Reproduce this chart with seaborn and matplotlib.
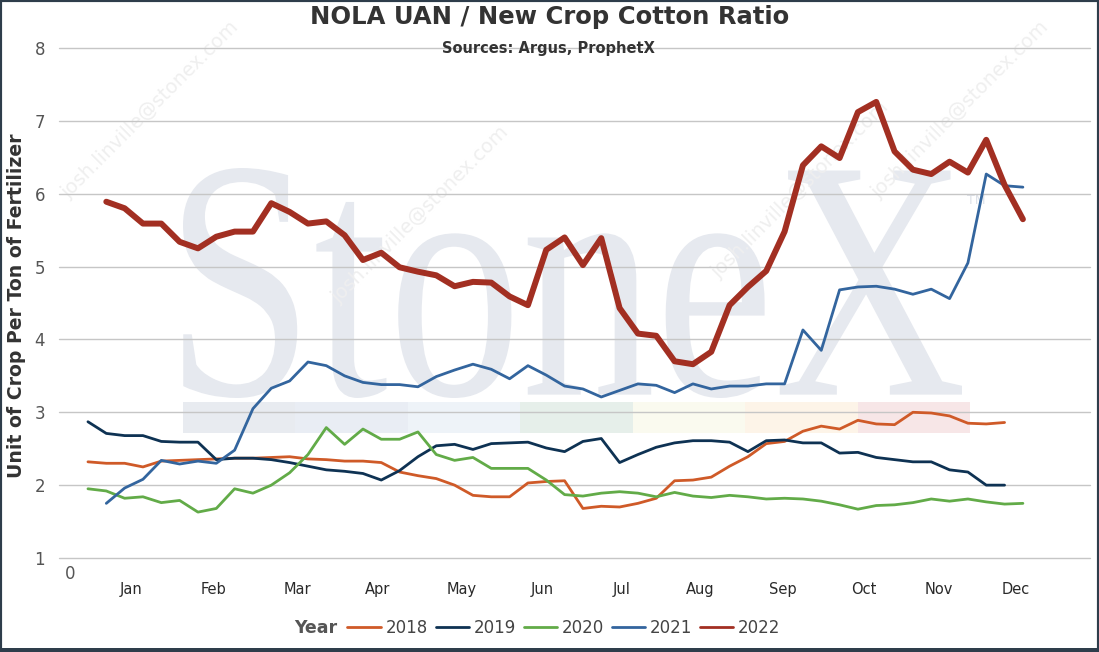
import numpy as np
import pandas as pd
import matplotlib
matplotlib.use("Agg")
import matplotlib.pyplot as plt
import seaborn as sns
from matplotlib.textpath import TextPath
from matplotlib.patches import PathPatch, Rectangle
from matplotlib.font_manager import FontProperties
from matplotlib.transforms import Affine2D
from matplotlib.lines import Line2D

# ---------------- data ----------------
years = [2018, 2019, 2020, 2021, 2022]
first_week = [1, 1, 1, 2, 2]
colors = ["#cf5a28", "#0e3253", "#62ab48", "#33659e", "#a22f22"]
widths = [2.0, 2.0, 2.0, 2.0, 4.3]

v2018 = [2.32, 2.30, 2.30, 2.25, 2.33, 2.34, 2.35, 2.36, 2.37, 2.37, 2.38, 2.39, 2.36,
         2.35, 2.33, 2.33, 2.31, 2.18, 2.13, 2.09, 2.00, 1.86, 1.84, 1.84, 2.03, 2.05,
         2.06, 1.68, 1.71, 1.70, 1.75, 1.82, 2.06, 2.07, 2.11, 2.26, 2.39, 2.57, 2.60,
         2.74, 2.81, 2.77, 2.89, 2.84, 2.83, 3.00, 2.99, 2.95, 2.85, 2.84, 2.86]
v2019 = [2.87, 2.71, 2.68, 2.68, 2.60, 2.59, 2.59, 2.35, 2.37, 2.37, 2.35, 2.31, 2.26,
         2.21, 2.19, 2.16, 2.07, 2.20, 2.39, 2.54, 2.56, 2.49, 2.57, 2.58, 2.59, 2.51,
         2.46, 2.60, 2.64, 2.31, 2.42, 2.52, 2.58, 2.61, 2.61, 2.59, 2.46, 2.61, 2.62,
         2.58, 2.58, 2.44, 2.45, 2.38, 2.35, 2.32, 2.32, 2.21, 2.18, 2.00, 2.00]
v2020 = [1.95, 1.92, 1.82, 1.84, 1.76, 1.79, 1.63, 1.68, 1.95, 1.89, 2.00, 2.17, 2.42,
         2.79, 2.56, 2.77, 2.63, 2.63, 2.73, 2.42, 2.34, 2.38, 2.23, 2.23, 2.23, 2.07,
         1.87, 1.85, 1.89, 1.91, 1.89, 1.84, 1.90, 1.85, 1.83, 1.86, 1.84, 1.81, 1.82,
         1.81, 1.78, 1.73, 1.67, 1.72, 1.73, 1.76, 1.81, 1.78, 1.81, 1.77, 1.74, 1.75]
v2021 = [1.75, 1.96, 2.08, 2.34, 2.29, 2.33, 2.30, 2.48, 3.05, 3.33, 3.43, 3.69, 3.64,
         3.50, 3.41, 3.38, 3.38, 3.35, 3.49, 3.58, 3.66, 3.59, 3.46, 3.64, 3.51, 3.36,
         3.32, 3.21, 3.30, 3.39, 3.37, 3.27, 3.39, 3.32, 3.36, 3.36, 3.39, 3.39, 4.13,
         3.85, 4.68, 4.72, 4.73, 4.69, 4.62, 4.69, 4.56, 5.05, 6.27, 6.11, 6.09]
v2022 = [5.89, 5.80, 5.59, 5.59, 5.34, 5.25, 5.41, 5.48, 5.48, 5.87, 5.75, 5.59, 5.62,
         5.43, 5.09, 5.19, 4.99, 4.93, 4.88, 4.73, 4.79, 4.78, 4.59, 4.47, 5.23, 5.40,
         5.02, 5.39, 4.43, 4.08, 4.05, 3.70, 3.66, 3.83, 4.47, 4.72, 4.94, 5.48, 6.39,
         6.65, 6.49, 7.12, 7.26, 6.58, 6.33, 6.27, 6.44, 6.29, 6.74, 6.12, 5.65]
series = [v2018, v2019, v2020, v2021, v2022]

months = ["Jan", "Feb", "Mar", "Apr", "May", "Jun", "Jul", "Aug", "Sep", "Oct", "Nov", "Dec"]
month_pos = [3.35, 7.87, 12.4, 16.8, 21.4, 25.8, 30.1, 34.4, 38.9, 43.3, 47.4, 51.6]

rows = []
for yr, fw, vals in zip(years, first_week, series):
    for i, v in enumerate(vals):
        rows.append({"Year": yr, "Week": fw + i, "Ratio": v})
df = pd.DataFrame(rows)

# ---------------- figure ----------------
sns.set_theme(style="white")
plt.rcParams["font.family"] = ["DejaVu Sans"]

W, H = 1099, 652
fig = plt.figure(figsize=(W / 100, H / 100), dpi=100)
fig.patch.set_facecolor("white")
ax = fig.add_axes([59 / W, (H - 558) / H, (1090 - 59) / W, 510 / H])
ax.set_facecolor("none")


def fx(x):
    return x / W


def fy(y):
    return 1 - y / H


# watermark logo
wm = "#e6e9ef"
tp = TextPath((0, 0), "StoneX", size=100, prop=FontProperties(family="Liberation Serif"))
ext = tp.get_extents()
tx0, tx1, ty0, ty1 = fx(183), fx(962), fy(398), fy(168)
tr = (Affine2D().translate(-ext.x0, -ext.y0)
      .scale((tx1 - tx0) / ext.width, (ty1 - ty0) / ext.height)
      .translate(tx0, ty0))
logo = PathPatch(tr.transform_path(tp), facecolor=wm, edgecolor="none",
                 transform=fig.transFigure, zorder=0.1, clip_on=False)
ax.add_patch(logo)
ax.text(fx(976), fy(200), "TM", transform=fig.transFigure, fontsize=9, color="#dde1e8",
        ha="center", va="center", zorder=0.1)
band_cols = ["#e8ebf0", "#e9edf4", "#eef3f8", "#e6efea", "#fafaef", "#fdf4e8", "#f7e6e7"]
seg = (970 - 183) / 7
for i, c in enumerate(band_cols):
    ax.add_patch(Rectangle((fx(183 + i * seg), fy(433)), seg / W, 31 / H,
                           transform=fig.transFigure, facecolor=c, edgecolor="none",
                           zorder=0.1, clip_on=False))
for (cx, cy) in [(150, 110), (420, 215), (800, 190), (960, 110)]:
    ax.text(fx(cx), fy(cy), "josh.linville@stonex.com", transform=fig.transFigure,
            rotation=45, fontsize=14, color="#efefef", ha="center", va="center",
            zorder=0.15, clip_on=False)

# gridlines
ax.set_axisbelow(True)
ax.yaxis.grid(True, color="#c6c6c6", linewidth=1.0)
ax.xaxis.grid(False)
for s in ax.spines.values():
    s.set_visible(False)

for yr, c, lw in zip(years, colors, widths):
    sns.lineplot(data=df[df["Year"] == yr], x="Week", y="Ratio", ax=ax, color=c,
                 linewidth=lw, zorder=3 if yr == 2022 else 2, legend=False)

ax.set_ylim(1, 8)
ax.set_xlim(-0.58, 55.66)
ax.set_yticks(range(1, 9))
ax.set_yticklabels([str(i) for i in range(1, 9)], fontsize=12, color="#555555")
ax.tick_params(axis="y", length=0, pad=10)
ax.set_xticks([0])
ax.set_xticklabels(["0"], fontsize=12, color="#555555")
ax.set_xticks(month_pos, minor=True)
ax.set_xticklabels(months, minor=True, fontsize=10.5, color="#2a2a2a")
ax.tick_params(axis="x", which="major", length=0, pad=5)
ax.tick_params(axis="x", which="minor", length=0, pad=17)
ax.set_xlabel("")
ax.set_ylabel("")
for gl in ax.get_ygridlines():
    gl.set_clip_on(False)

# texts
fig.text(fx(550), fy(17), "NOLA UAN / New Crop Cotton Ratio", fontsize=17.5,
         fontweight="bold", color="#333333", ha="center", va="center")
fig.text(fx(548), fy(49), "Sources: Argus, ProphetX", fontsize=10.5,
         fontweight="bold", color="#333333", ha="center", va="center")
fig.text(fx(17), fy(306), "Unit of Crop Per Ton of Fertilizer", fontsize=13.6,
         fontweight="bold", color="#333333", ha="center", va="center", rotation=90)

# legend
fig.text(fx(316), fy(628), "Year", fontsize=12.5, fontweight="bold", color="#555555",
         ha="center", va="center")
handles = [Line2D([], [], color=c, linewidth=2) for c in colors]
fig.legend(handles, [str(y) for y in years], loc="center", bbox_to_anchor=(fx(564), fy(628)),
           ncol=5, frameon=False, fontsize=12, handlelength=2.0, handletextpad=0.3,
           columnspacing=0.45, labelcolor="#444444")

# frame
fig.patches.append(Rectangle((0, 0), 1, 1, transform=fig.transFigure, fill=False,
                             edgecolor="#2e3d4b", linewidth=3, zorder=10))
fig.patches.append(Rectangle((0, 0), 1, 4 / H, transform=fig.transFigure,
                             facecolor="#2e3d4b", edgecolor="none", zorder=10))

fig.savefig("out.png", dpi=100)
